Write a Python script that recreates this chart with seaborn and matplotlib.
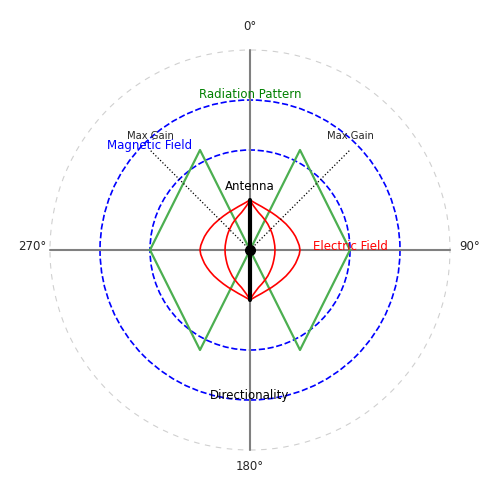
import matplotlib
matplotlib.use("Agg")
import matplotlib.pyplot as plt
import seaborn as sns
import pandas as pd

sns.set_style("white")
plt.rcParams['font.family'] = ['DejaVu Sans']

# reference circles (radius)
blue_radii = [2, 3]
outer_radius = 4

# radiation pattern (green star)
pattern_x = [-2, -1, 0, 1, 2, 1, 0, -1, -2]
pattern_y = [0, 2, 0, 2, 0, -2, 0, -2, 0]

# electric field lobes, right-hand profile (top to bottom)
lobe_y = [1.0, 0.93, 0.87, 0.81, 0.75, 0.68, 0.6, 0.52, 0.43, 0.35, 0.27, 0.18, 0.09, 0.0,
          -0.09, -0.18, -0.27, -0.35, -0.43, -0.52, -0.6, -0.68, -0.75, -0.81, -0.87, -0.93, -1.0]
lobe_outer = [0, 0.12, 0.23, 0.33, 0.43, 0.53, 0.63, 0.72, 0.8, 0.86, 0.91, 0.95, 0.985, 1.0,
              0.985, 0.95, 0.91, 0.86, 0.8, 0.72, 0.63, 0.53, 0.43, 0.33, 0.23, 0.12, 0]
lobe_inner = [0, 0.04, 0.08, 0.125, 0.17, 0.235, 0.3, 0.355, 0.4, 0.435, 0.46, 0.48, 0.495, 0.5,
              0.495, 0.48, 0.46, 0.435, 0.4, 0.355, 0.3, 0.235, 0.17, 0.125, 0.08, 0.04, 0]

# max gain directions
gain_x = [2, -2]
gain_y = [2, 2]

dir_labels = ["0°", "90°", "180°", "270°"]
dir_pos = [(0, 4.48), (4.4, 0.08), (0, -4.32), (-4.36, 0.08)]

fig = plt.figure(figsize=(5, 5), dpi=100)
ax = fig.add_axes([0, 0, 1, 1])
ax.set_xlim(-5, 5)
ax.set_ylim(-5, 5)
ax.set_aspect('equal')
ax.axis('off')

# outer gray circle and blue circles
ax.add_patch(plt.Circle((0, 0), outer_radius, fill=False, color='#d0d0d0',
                        linestyle=(0, (5, 5)), lw=0.8))
for r in blue_radii:
    ax.add_patch(plt.Circle((0, 0), r, fill=False, color='blue',
                            linestyle='--', lw=1.2))

# axes cross
ax.plot([-outer_radius, outer_radius], [0, 0], color='gray', lw=1.5)
ax.plot([0, 0], [-outer_radius, outer_radius], color='gray', lw=1.5)

# radiation pattern
pat = pd.DataFrame({'x': pattern_x, 'y': pattern_y})
sns.lineplot(data=pat, x='x', y='y', sort=False, estimator=None,
             color='#4caf50', lw=1.6, ax=ax)

# electric field lobes
for prof in [lobe_outer, lobe_inner]:
    for s in [1, -1]:
        df = pd.DataFrame({'x': [s * v for v in prof], 'y': lobe_y})
        sns.lineplot(data=df, x='x', y='y', sort=False, estimator=None,
                     color='red', lw=1.2, ax=ax)

# max gain lines
for gx, gy in zip(gain_x, gain_y):
    ax.plot([0, gx], [0, gy], color='black', linestyle=':', lw=0.9)
    ax.text(gx, gy + 0.28, "Max Gain", fontsize=7.2, ha='center', va='center')

# antenna
ax.plot([0, 0], [-1, 1], color='black', lw=3)
ax.plot([0], [0], 'o', color='black', markersize=7)

ax.text(0, 3.1, "Radiation Pattern", color='green', fontsize=8.5,
        ha='center', va='center')
ax.text(-2, 2.1, "Magnetic Field", color='blue', fontsize=8.5,
        ha='center', va='center')
ax.text(0, 1.28, "Antenna", color='black', fontsize=8.5,
        ha='center', va='center')
ax.text(2, 0.08, "Electric Field", color='red', fontsize=8.5,
        ha='center', va='center')
ax.text(0, -2.92, "Directionality", color='black', fontsize=8.5,
        ha='center', va='center')

for lab, (x, y) in zip(dir_labels, dir_pos):
    ax.text(x, y, lab, fontsize=8.5, ha='center', va='center')

fig.savefig("out.png", dpi=100)
